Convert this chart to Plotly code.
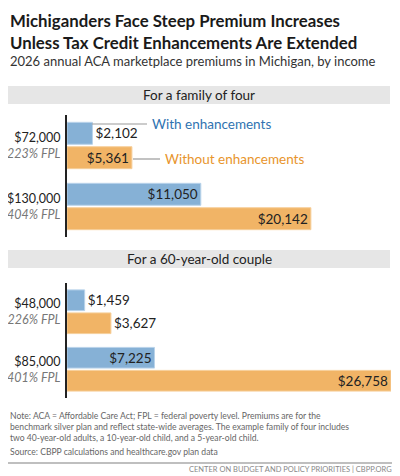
import plotly.graph_objects as go

# values
family_incomes = ["$72,000<br><i><span style='color:#777'>223% FPL</span></i>",
                  "$130,000<br><i><span style='color:#777'>404% FPL</span></i>"]
family_with = [2102, 11050]
family_without = [5361, 20142]

couple_incomes = ["$48,000<br><i><span style='color:#777'>226% FPL</span></i>",
                  "$85,000<br><i><span style='color:#777'>401% FPL</span></i>"]
couple_with = [1459, 7225]
couple_without = [3627, 26758]

BLUE = "#86b1d6"
ORANGE = "#f1b466"
FONT = "Lato"
OFF = 8  # page body margin
W, H = 400 - OFF, 476 - OFF


def px(x):
    return max(0, (x - OFF) / W)


def py(y):
    return min(1, 1 - (y - OFF) / H)


def money(v):
    return f"${v:,}"


fig = go.Figure()

panels = [
    (family_incomes, family_with, family_without, "y", ["outside", "inside"], ["inside", "inside"]),
    (couple_incomes, couple_with, couple_without, "y2", ["outside", "inside"], ["outside", "inside"]),
]
for cats, w, wo, ya, pos_w, pos_wo in panels:
    fig.add_trace(go.Bar(y=cats, x=w, orientation="h", yaxis=ya, marker_color=BLUE,
                         marker_line=dict(color="#b9d3ea", width=1),
                         text=[money(v) for v in w], textposition=pos_w, offsetgroup="a",
                         insidetextanchor="end", cliponaxis=False, constraintext="none",
                         textfont=dict(size=13.5, color="#222", family=FONT)))
    fig.add_trace(go.Bar(y=cats, x=wo, orientation="h", yaxis=ya, marker_color=ORANGE,
                         marker_line=dict(color="#f6cf9a", width=1),
                         text=[money(v) for v in wo], textposition=pos_wo, offsetgroup="b",
                         insidetextanchor="end", cliponaxis=False, constraintext="none",
                         textfont=dict(size=13.5, color="#222", family=FONT)))

yax = dict(autorange="reversed", showline=True, linecolor="#222", linewidth=2, automargin=False,
           ticks="", ticklabelstandoff=2,
           tickfont=dict(size=12.5, color="#222", family=FONT), fixedrange=True)
fig.update_layout(
    width=W, height=H, margin=dict(l=0, r=0, t=0, b=0, autoexpand=False),
    paper_bgcolor="white", plot_bgcolor="white", showlegend=False,
    barmode="group", bargap=0.2, bargroupgap=0.1,
    font=dict(family=FONT),
    xaxis=dict(domain=[px(67), px(391)], range=[0, 26758], visible=False, automargin=False, fixedrange=True),
    yaxis=dict(domain=[py(237), py(115)], **yax),
    yaxis2=dict(domain=[py(398), py(283)], anchor="x", **yax),
)

shapes = []
annotations = []
for label, (y0, y1) in [("For a family of four", (86, 104)), ("For a 60-year-old couple", (250, 268))]:
    shapes.append(dict(type="rect", xref="paper", yref="paper", x0=px(8), x1=px(390),
                       y0=py(y1), y1=py(y0), fillcolor="#e6e6e6", line_width=0, layer="below"))
    annotations.append(dict(text=label, xref="paper", yref="paper", x=px(199), y=py((y0 + y1) / 2),
                            xanchor="center", yanchor="middle",
                            showarrow=False, font=dict(size=13.5, color="#222")))

# legend leader lines
shapes.append(dict(type="line", xref="paper", yref="paper", x0=px(92), x1=px(147),
                   y0=py(124), y1=py(124), line=dict(color="#999", width=1.2)))
shapes.append(dict(type="line", xref="paper", yref="paper", x0=px(133), x1=px(160),
                   y0=py(159), y1=py(159), line=dict(color="#999", width=1.2)))
annotations.append(dict(text="With enhancements", xref="paper", yref="paper", x=px(150), y=py(124),
                        xanchor="left", yanchor="middle", showarrow=False,
                        font=dict(size=13.5, color="#2f73b1")))
annotations.append(dict(text="Without enhancements", xref="paper", yref="paper", x=px(163), y=py(159),
                        xanchor="left", yanchor="middle", showarrow=False,
                        font=dict(size=13.5, color="#e8952c")))

annotations.append(dict(text="<b>Michiganders Face Steep Premium Increases<br>Unless Tax Credit Enhancements Are Extended</b>",
                        xref="paper", yref="paper", x=0, y=1, xanchor="left", yanchor="top",
                        align="left", showarrow=False,
                        font=dict(size=16.8, color="#1a1a1a")))
annotations.append(dict(text="2026 annual ACA marketplace premiums in Michigan, by income",
                        xref="paper", yref="paper", x=0, y=py(51), xanchor="left", yanchor="top",
                        align="left", showarrow=False, font=dict(size=13, color="#333")))
annotations.append(dict(text="Note: ACA = Affordable Care Act; FPL = federal poverty level. Premiums are for the<br>"
                             "benchmark silver plan and reflect state-wide averages. The example family of four includes<br>"
                             "two 40-year-old adults, a 10-year-old child, and a 5-year-old child.",
                        xref="paper", yref="paper", x=0, y=py(409), xanchor="left", yanchor="top",
                        align="left", showarrow=False, font=dict(size=8.6, color="#666")))
annotations.append(dict(text="Source: CBPP calculations and healthcare.gov plan data",
                        xref="paper", yref="paper", x=0, y=py(445), xanchor="left", yanchor="top",
                        align="left", showarrow=False, font=dict(size=8.6, color="#666")))
shapes.append(dict(type="line", xref="paper", yref="paper", x0=0, x1=1, y0=py(463), y1=py(463),
                   line=dict(color="#aaa", width=1.5)))
annotations.append(dict(text="CENTER ON BUDGET AND POLICY PRIORITIES | CBPP.ORG",
                        xref="paper", yref="paper", x=px(394), y=py(469), xanchor="right", yanchor="middle",
                        showarrow=False, font=dict(size=7.5, color="#888")))

fig.update_layout(shapes=shapes, annotations=annotations)
fig.write_html("out.html")
